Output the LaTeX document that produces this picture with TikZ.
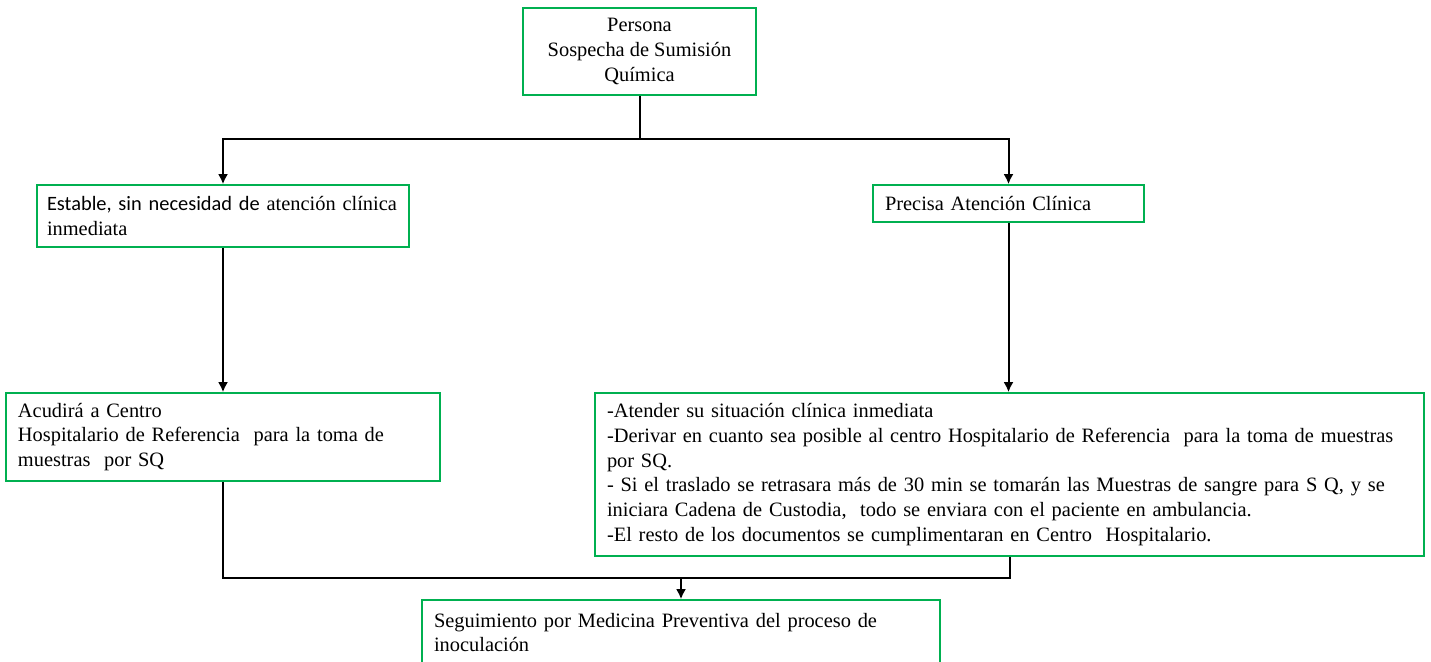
\documentclass[tikz,border=0pt]{standalone}
\usepackage{fontspec}
\setmainfont{Liberation Serif}
\newfontfamily\calibri{Carlito}
\usepackage{xcolor}
\usetikzlibrary{positioning,arrows.meta}
\definecolor{boxgreen}{RGB}{0,176,80}
\tikzset{
  box/.style={draw=boxgreen, line width=0.8pt, fill=white, align=left, inner xsep=6pt, inner ysep=0pt, font=\fontsize{10.2}{12.4}\selectfont},
  link/.style={line width=1pt, draw=black},
  flow/.style={link, -{Latex[length=5pt,width=5pt]}},
}
\begin{document}
\begin{tikzpicture}[x=0.5pt,y=-0.5pt]
\useasboundingbox (0,0) rectangle (1431,662);
\node[box, align=center, minimum width=116.5pt, minimum height=43.5pt] (persona) at (639.5,51.5) {Persona\\ Sospecha de Sumisión\\ Química};
\node[box, inner xsep=5pt, text width=176pt, minimum height=31pt] (estable) at (223,216) {{\calibri Estable, sin necesidad de} atención clínica\\ inmediata};
\node[box, text width=123.5pt, minimum height=18.5pt] (precisa) at (1008.5,203.5) {Precisa Atención Clínica};
\node[box, text width=205pt, minimum height=44pt] (acudira) at (223,437) {Acudirá a Centro\\ Hospitalario de Referencia\ \ para la toma de\\ muestras\ \ por SQ};
\node[box, text width=402.5pt, minimum height=81.5pt] (atender) at (1009.5,474.5) {-Atender su situación clínica inmediata\\ -Derivar\ en cuanto sea posible al centro Hospitalario de Referencia\ \ para la toma de muestras\\ por SQ.\\ - Si el traslado se retrasara más de 30 min se tomarán las Muestras de sangre para S Q, y se\\ iniciara\ Cadena de Custodia,\ \ todo se enviara con el paciente en ambulancia.\\ -El resto de los documentos se cumplimentaran en Centro\ \ Hospitalario.};
\node[box, text width=247pt, minimum height=32.5pt] (seguim) at (681,632.5) {Seguimiento por Medicina Preventiva del proceso de\\ inoculación};
\coordinate (split) at (639.5,139);
\coordinate (merge) at (681,578);
\draw[link] (persona) -- (split);
\draw[flow] (split) -| (estable);
\draw[flow] (split) -| (precisa);
\draw[flow] (estable) -- (acudira);
\draw[flow] (precisa) -- (precisa |- atender.north);
\draw[link] (acudira) |- (merge) -| (atender);
\draw[flow] (merge) -- (seguim);
\end{tikzpicture}
\end{document}
